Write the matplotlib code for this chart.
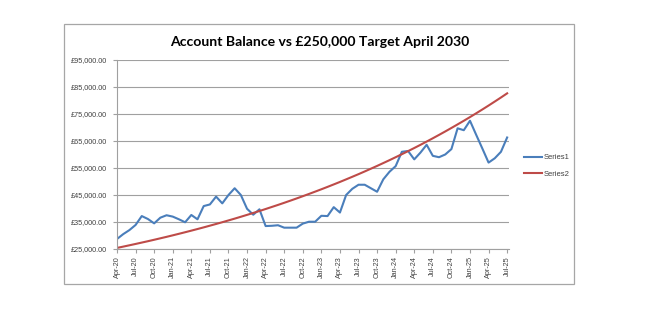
import matplotlib
matplotlib.use("Agg")
import matplotlib.pyplot as plt
from matplotlib.patches import Rectangle
from matplotlib.ticker import FuncFormatter

# ---- data ----
months = ["Apr-20","May-20","Jun-20","Jul-20","Aug-20","Sep-20","Oct-20","Nov-20","Dec-20",
          "Jan-21","Feb-21","Mar-21","Apr-21","May-21","Jun-21","Jul-21","Aug-21","Sep-21",
          "Oct-21","Nov-21","Dec-21","Jan-22","Feb-22","Mar-22","Apr-22","May-22","Jun-22",
          "Jul-22","Aug-22","Sep-22","Oct-22","Nov-22","Dec-22","Jan-23","Feb-23","Mar-23",
          "Apr-23","May-23","Jun-23","Jul-23","Aug-23","Sep-23","Oct-23","Nov-23","Dec-23",
          "Jan-24","Feb-24","Mar-24","Apr-24","May-24","Jun-24","Jul-24","Aug-24","Sep-24",
          "Oct-24","Nov-24","Dec-24","Jan-25","Feb-25","Mar-25","Apr-25","May-25","Jun-25",
          "Jul-25"]

series1 = [28700, 30500, 32000, 33900, 37200, 36100, 34500, 36600, 37500, 37000,
           36000, 34900, 37600, 36000, 40900, 41500, 44400, 41900, 45000, 47500,
           45000, 39900, 37700, 39700, 33500, 33600, 33800, 32900, 32900, 32900,
           34400, 35100, 35100, 37300, 37200, 40500, 38500, 45000, 47300, 48800,
           48800, 47500, 46200, 50800, 53600, 55700, 61000, 61300, 58200, 60700,
           63600, 59500, 59000, 60000, 62000, 69700, 69000, 72500, 67300, 62200,
           57000, 58600, 61000, 66300]

series2 = [25400, 25880, 26370, 26870, 27380, 27890, 28420, 28960, 29500, 30060,
           30630, 31210, 31800, 32400, 33010, 33640, 34270, 34920, 35580, 36250,
           36940, 37640, 38350, 39070, 39810, 40570, 41330, 42110, 42910, 43720,
           44550, 45390, 46250, 47120, 48010, 48920, 49840, 50790, 51750, 52720,
           53720, 54740, 55770, 56830, 57900, 59000, 60110, 61250, 62400, 63580,
           64790, 66010, 67260, 68530, 69830, 71150, 72490, 73860, 75260, 76680,
           78130, 79610, 81110, 82650]

tick_labels = ["Apr-20","Jul-20","Oct-20","Jan-21","Apr-21","Jul-21","Oct-21","Jan-22",
               "Apr-22","Jul-22","Oct-22","Jan-23","Apr-23","Jul-23","Oct-23","Jan-24",
               "Apr-24","Jul-24","Oct-24","Jan-25","Apr-25","Jul-25"]
y_ticks = [25000, 35000, 45000, 55000, 65000, 75000, 85000, 95000]

title = "Account Balance vs £250,000 Target April 2030"

# ---- figure ----
W, H = 660, 330
fig = plt.figure(figsize=(6.6, 3.3), dpi=100)
fig.patch.set_facecolor("white")

# chart area border
fig.patches.append(Rectangle((64 / W, 1 - 284 / H), (574 - 64) / W, (284 - 24) / H,
                             transform=fig.transFigure, fill=False,
                             edgecolor="#A6A6A6", linewidth=0.9))

left, right, top, bottom = 117, 509, 60, 249
ax = fig.add_axes([left / W, 1 - bottom / H, (right - left) / W, (bottom - top) / H])

x = list(range(len(months)))
ax.plot(x, series1, color="#4A7EBB", linewidth=1.5, label="Series1", solid_joinstyle="round")
ax.plot(x, series2, color="#BE4B48", linewidth=1.5, label="Series2", solid_joinstyle="round")

ax.set_ylim(25000, 95000)
ax.set_xlim(0, 63.3)
ax.set_yticks(y_ticks)
ax.yaxis.set_major_formatter(FuncFormatter(lambda v, p: "£{:,.2f}".format(v)))
tick_pos = [months.index(t) for t in tick_labels]
ax.set_xticks(tick_pos)
ax.set_xticklabels(tick_labels, rotation=90)

ax.grid(axis="y", color="#A0A0A0", linewidth=0.8)
ax.set_axisbelow(True)
for s in ["top", "right"]:
    ax.spines[s].set_visible(False)
for s in ["left", "bottom"]:
    ax.spines[s].set_color("#A0A0A0")
    ax.spines[s].set_linewidth(0.8)

ax.tick_params(axis="both", direction="out", length=3, width=0.8, color="#A0A0A0",
               labelsize=5.2, labelcolor="#404040", pad=2)
ax.tick_params(axis="y", pad=4)
for lbl in ax.get_xticklabels() + ax.get_yticklabels():
    lbl.set_family("Liberation Sans")

fig.text(319.5 / W, 1 - 42 / H, title, ha="center", va="center",
         fontsize=10.1, fontweight="bold", family="Lato", color="black")

leg = ax.legend(loc="center left", bbox_to_anchor=((521 - left) / (right - left),
                (bottom - 166) / (bottom - top)),
                frameon=False, fontsize=5.5, handlelength=2.4, handletextpad=0.15,
                labelspacing=1.2, borderaxespad=0)
for t in leg.get_texts():
    t.set_family("Liberation Sans")
    t.set_color("#404040")

fig.savefig("out.png", dpi=100, facecolor="white")
